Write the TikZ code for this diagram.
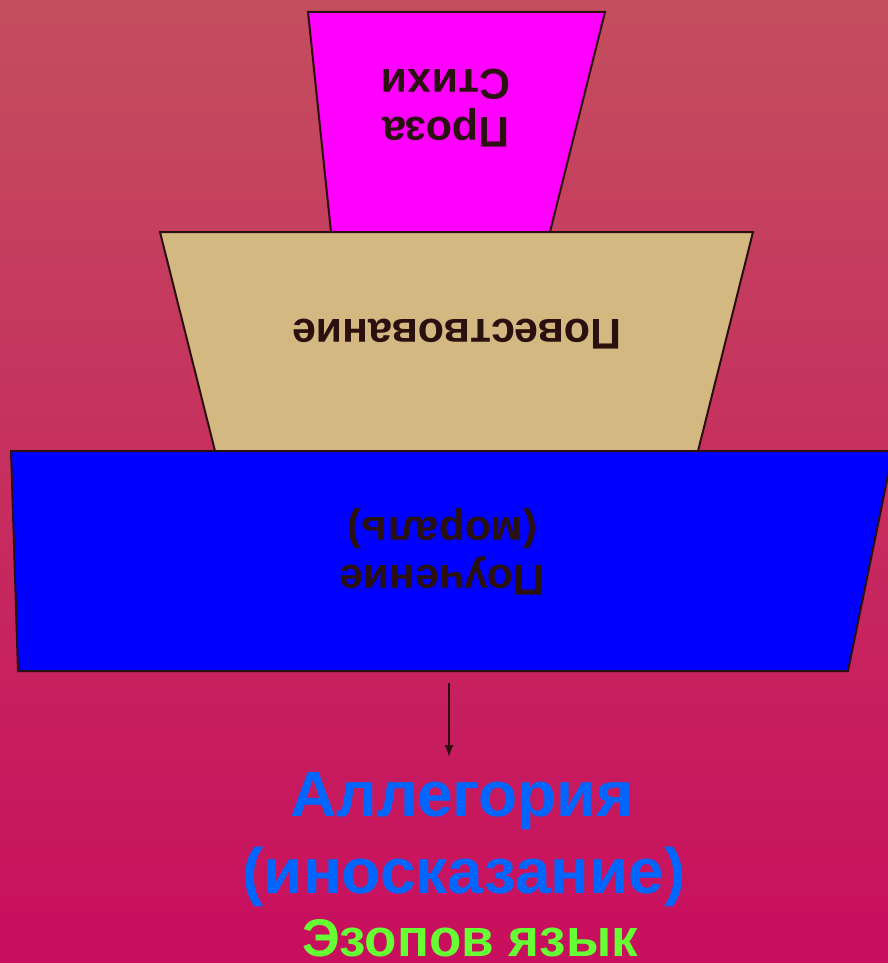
\documentclass[tikz,border=0pt]{standalone}
\usepackage{fontspec}
\setmainfont{Liberation Sans}
\usetikzlibrary{positioning}
\usetikzlibrary{arrows.meta}
\definecolor{bgtop}{RGB}{196,78,94}
\definecolor{bgbot}{RGB}{200,14,94}
\definecolor{ink}{RGB}{43,16,16}
\definecolor{pinkbox}{RGB}{255,0,255}
\definecolor{tanbox}{RGB}{212,184,130}
\definecolor{bluebox}{RGB}{0,0,255}
\definecolor{skyblue}{RGB}{0,102,255}
\definecolor{limegreen}{RGB}{102,255,51}
\begin{document}
\begin{tikzpicture}[x=1pt,y=-1pt,
  box/.style={draw=ink,line width=2pt},
  boxtext/.style={rotate=180,text=ink,align=center,
    font=\bfseries\fontsize{43}{48}\selectfont},
  bigtext/.style={anchor=base,font=\bfseries\fontsize{64}{70}\selectfont}]
 \useasboundingbox (0,0) rectangle (888,963);
 \clip (0,0) rectangle (888,963);
 \shade[top color=bgtop,bottom color=bgbot](0,0) rectangle (888,963);
 % trapezoids
 \draw[box,fill=pinkbox](308,12)--(605,12)--(550,232)--(331,232)--cycle;
 \draw[box,fill=tanbox](160,232)--(753,232)--(698,451)--(215,451)--cycle;
 \draw[box,fill=bluebox](11,451)--(893,451)--(848,671)--(18,671)--cycle;
 \node[boxtext] (verse) at (446,108) {Проза\\Стихи};
 \node[boxtext] (story) at (457,334) {Повествование};
 \node[boxtext] (moral) at (442,552) {Поучение\\(мораль)};
 % result
 \node[bigtext,text=skyblue] (allegory) at (462,816) {Аллегория};
 \node[bigtext,text=skyblue] (hidden) at (464,893) {(иносказание)};
 \node[bigtext,text=limegreen,font=\bfseries\fontsize{53}{60}\selectfont] (aesop) at (470,956) {Эзопов язык};
 \coordinate (arrtop) at (449,683);
 \coordinate (arrtip) at (449,757);
 \draw[-{Latex[length=12pt,width=9pt]},ink,line width=1.5pt](arrtop)--(arrtip);
\end{tikzpicture}
\end{document}
